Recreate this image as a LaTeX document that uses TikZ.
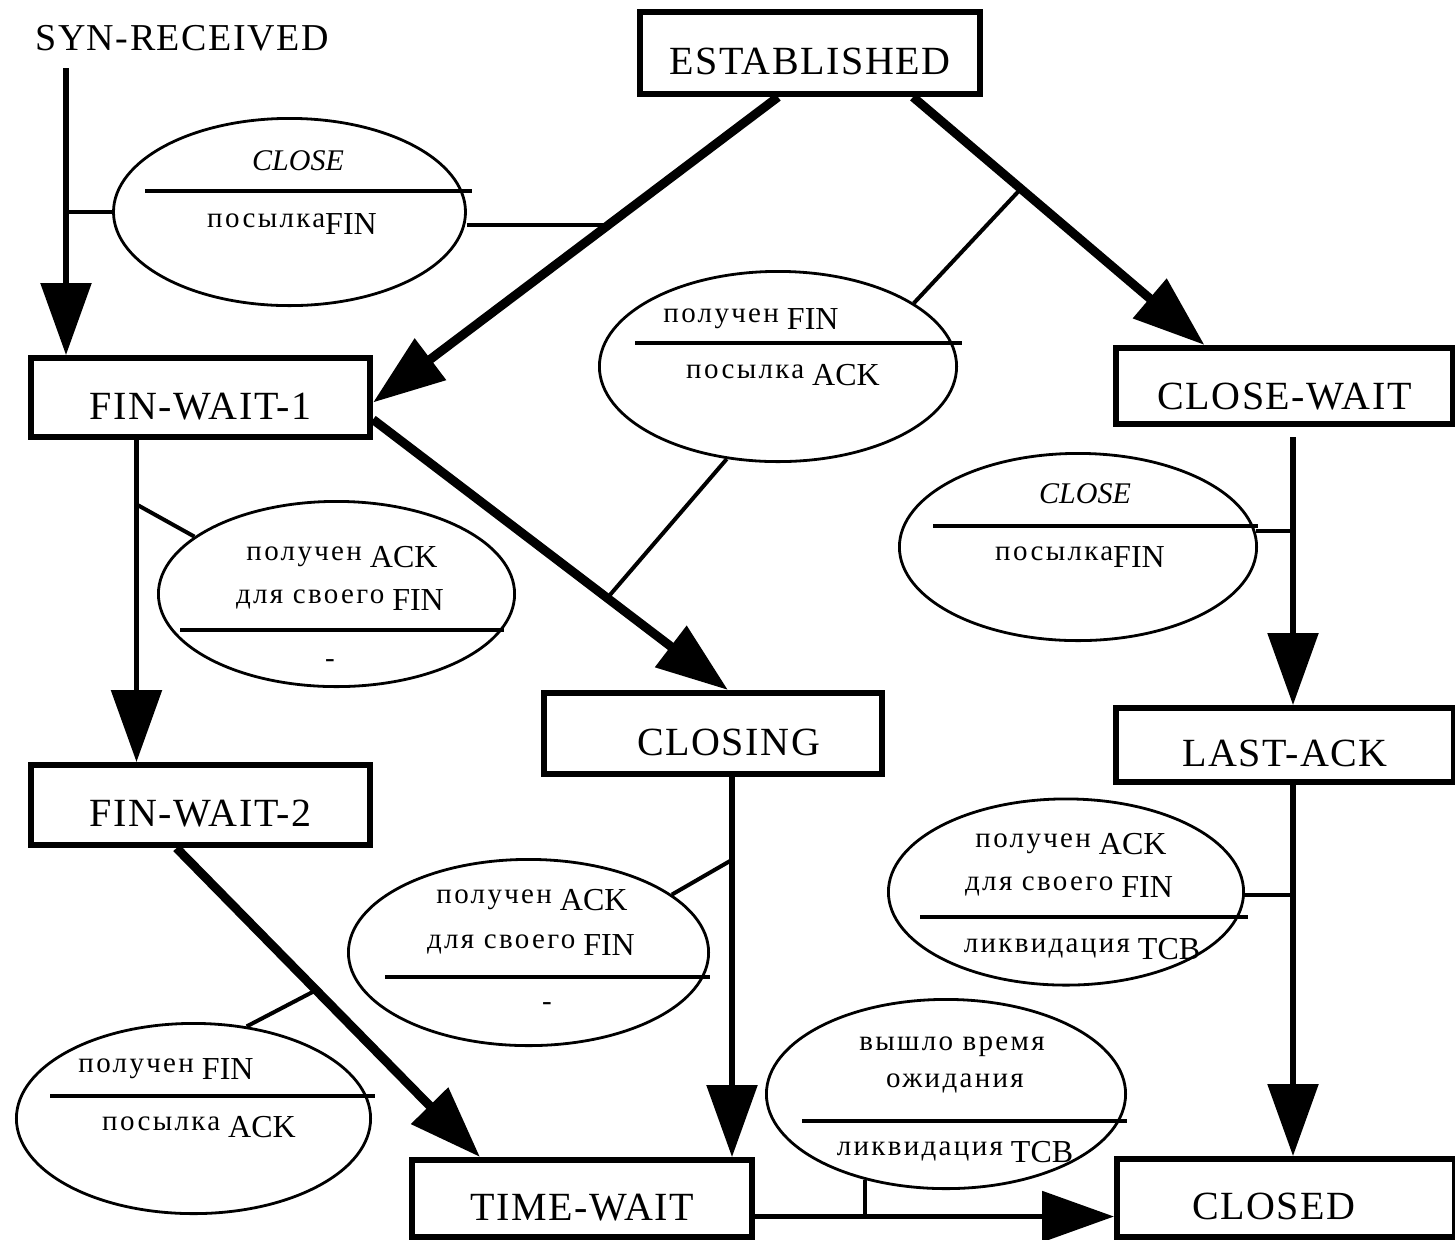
\documentclass[tikz,border=0pt]{standalone}
\usepackage{fontspec}
\setmainfont{Liberation Serif}
\newfontfamily\boxfont[LetterSpace=4]{Liberation Serif}
\newfontfamily\rufont[LetterSpace=8]{Liberation Serif}
\usetikzlibrary{arrows.meta,shapes.geometric,calc}
\newcommand\RuTxt[1]{{\rufont\fontsize{14.5pt}{17pt}\selectfont #1}}
\newcommand\LaTxt[1]{\raisebox{-3.5pt}{\fontsize{16pt}{18pt}\selectfont #1}}
\newcommand\ItTxt[1]{{\fontsize{15pt}{17pt}\selectfont\itshape #1}}
\tikzset{
 state/.style={draw, line width=3pt, rectangle, inner sep=0pt, minimum width=169.5pt, minimum height=39.5pt,
   font=\boxfont\fontsize{20pt}{22pt}\selectfont, text height=21.5pt, text depth=0pt},
 cond/.style={draw, ellipse, line width=1.4pt, inner sep=0pt},
 etext/.style={anchor=base, inner sep=0pt, font=\fontsize{16pt}{18pt}\selectfont},
 bigarrow/.style={line width=4.5pt, -{Triangle[length=36pt,width=25pt]}},
 vertarrow/.style={line width=2.8pt, -{Triangle[length=36pt,width=25pt]}},
 conn/.style={line width=2pt},
 divider/.style={line width=1.8pt},
}
\begin{document}
\begin{tikzpicture}[x=0.5pt,y=-0.5pt]
\fill[white] (0,0) rectangle (1455,1239);
\useasboundingbox (0,0) rectangle (1455,1239);

% states
\node[state, minimum width=170pt, minimum height=41pt] (est) at (810,53) {ESTABLISHED};
\node[state] (fw1) at (200.5,397.5) {FIN-WAIT-1};
\node[state, minimum width=168.5pt, minimum height=38pt, text height=23pt] (cw) at (1284.5,386) {CLOSE-WAIT};
\node[state, minimum width=169pt, minimum height=40.5pt] (closing) at (713,733.5) {\hspace*{15.5pt}CLOSING};
\node[state, minimum width=169pt, minimum height=37pt] (la) at (1285,745) {LAST-ACK};
\node[state, minimum height=40pt] (fw2) at (200.5,805) {FIN-WAIT-2};
\node[state, minimum width=170pt, minimum height=38.5pt] (tw) at (582,1198.5) {TIME-WAIT};
\node[state, minimum width=169pt, minimum height=39pt] (closed) at (1286,1198) {CLOSED\hspace*{12pt}};

\node[anchor=base west, inner sep=0pt, font=\boxfont\fontsize{19pt}{21pt}\selectfont] (syn) at (35,50) {SYN-RECEIVED};
\coordinate (synfrom) at (66,68);

% condition ellipses
\node[cond, minimum width=176pt, minimum height=93.6pt] (e1) at (289.5,212) {};
\node[cond, minimum width=178.6pt, minimum height=95.1pt] (e2) at (778,366.5) {};
\node[cond, minimum width=178.6pt, minimum height=93.6pt] (e3) at (1078,547) {};
\node[cond, minimum width=177.6pt, minimum height=93.1pt] (e4) at (1066,892) {};
\node[cond, minimum width=179.6pt, minimum height=94.6pt] (e5) at (946,1094) {};
\node[cond, minimum width=180.1pt, minimum height=93.1pt] (e6) at (528.5,952.5) {};
\node[cond, minimum width=178.1pt, minimum height=92.6pt] (e7) at (336.5,594) {};
\node[cond, minimum width=177.1pt, minimum height=95.1pt] (e8) at (193.5,1118.5) {};

% dividers
\draw[divider] (145,191) -- (472,191);
\draw[divider] (635,343) -- (962,343);
\draw[divider] (933,526) -- (1258,526);
\draw[divider] (920,917) -- (1248,917);
\draw[divider] (802,1121) -- (1127,1121);
\draw[divider] (385,977) -- (710,977);
\draw[divider] (180,630) -- (504,630);
\draw[divider] (50,1096) -- (375,1096);

% texts
\node[etext] (t1a) at (298,170) {\ItTxt{CLOSE}};
\node[etext] (t1b) at (292,227) {\RuTxt{посылка}\LaTxt{FIN}};
\node[etext] (t2a) at (751,322) {\RuTxt{получен} \LaTxt{FIN}};
\node[etext] (t2b) at (783,378) {\RuTxt{посылка} \LaTxt{ACK}};
\node[etext] (t3a) at (1085,503) {\ItTxt{CLOSE}};
\node[etext] (t3b) at (1080,560) {\RuTxt{посылка}\LaTxt{FIN}};
\node[etext] (t4a) at (1071,847) {\RuTxt{получен} \LaTxt{ACK}};
\node[etext] (t4b) at (1069,890) {\RuTxt{для своего} \LaTxt{FIN}};
\node[etext] (t4c) at (1082,952) {\RuTxt{ликвидация} \LaTxt{TCB}};
\node[etext] (t5a) at (952,1050) {\RuTxt{вышло время}};
\node[etext] (t5b) at (955,1087) {\RuTxt{ожидания}};
\node[etext] (t5c) at (955,1155) {\RuTxt{ликвидация} \LaTxt{TCB}};
\node[etext] (t6a) at (532,903) {\RuTxt{получен} \LaTxt{ACK}};
\node[etext] (t6b) at (531,948) {\RuTxt{для своего} \LaTxt{FIN}};
\node[etext] (t6c) at (547,1010) {\RuTxt{-}};
\node[etext] (t7a) at (342,560) {\RuTxt{получен} \LaTxt{ACK}};
\node[etext] (t7b) at (340,603) {\RuTxt{для своего} \LaTxt{FIN}};
\node[etext] (t7c) at (330,667) {\RuTxt{-}};
\node[etext] (t8a) at (166,1072) {\RuTxt{получен} \LaTxt{FIN}};
\node[etext] (t8b) at (199,1130) {\RuTxt{посылка} \LaTxt{ACK}};

% helper coordinates
\coordinate (estl) at ([xshift=-16pt]est.south);
\coordinate (estr) at ([xshift=51.5pt]est.south);
\coordinate (fw1e) at ([yshift=-2.5pt]fw1.east);
\coordinate (cwin) at ([xshift=-40pt]cw.north);
\coordinate (fw1d) at ([yshift=-11pt]fw1.east);
\coordinate (clin) at ([xshift=7.5pt]closing.north);
\coordinate (fw1s) at ([xshift=-32pt]fw1.south);
\coordinate (fw2s) at ([xshift=-12pt]fw2.south);
\coordinate (twin) at ([xshift=-51pt]tw.north);
\coordinate (clx) at ([xshift=9.5pt]closing.south);
\coordinate (rline) at ([xshift=4pt]la.north);
\coordinate (twx) at ([yshift=-9pt]tw.east);

% transitions
\draw[vertarrow] (synfrom) -- (synfrom |- fw1.north);
\draw[bigarrow] (estl) -- coordinate[pos=0.42] (c1) (fw1e);
\draw[bigarrow] (estr) -- coordinate[pos=0.37] (c2) (cwin);
\draw[bigarrow] (fw1d) -- coordinate[pos=0.66] (c3) (clin);
\draw[vertarrow] (fw1s) -- coordinate[pos=0.2] (c4) (fw1s |- fw2.north);
\draw[bigarrow] (fw2s) -- coordinate[pos=0.46] (c5) (twin);
\draw[vertarrow] (clx) -- coordinate[pos=0.218] (c6) (clx |- tw.north);
\draw[vertarrow, shorten <=5pt] (rline |- cw.south) -- (rline);
\draw[vertarrow] (rline |- la.south) -- (rline |- closed.north);
\draw[vertarrow] (twx) -- coordinate[pos=0.306] (c9) (twx -| closed.west);

% condition connectors
\draw[conn] (e1.west) -- (e1.west -| synfrom);
\draw[conn] (e1.east |- c1) -- (c1);
\draw[conn] (e2.25) -- (c2);
\draw[conn] (e2.241) -- (c3);
\draw[conn] (c4) -- (e7.158);
\draw[conn] (e8.60) -- (c5);
\draw[conn] (e6.22) -- (c6);
\draw[conn] (e3.5) -- (e3.5 -| rline);
\draw[conn] (e4.359) -- (e4.359 -| rline);
\draw[conn] (c9) -- (c9 |- e5.227);
\end{tikzpicture}
\end{document}
